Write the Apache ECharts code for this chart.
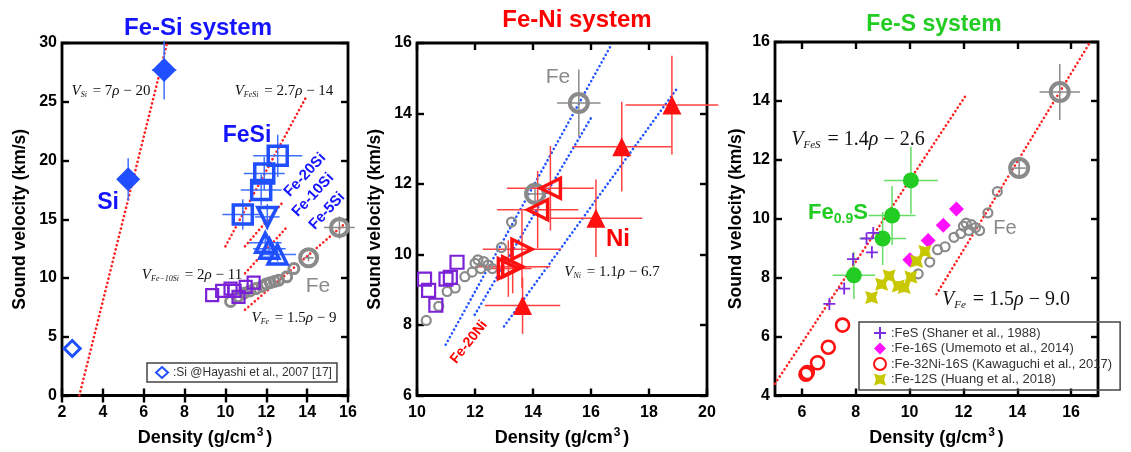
<!DOCTYPE html>
<html>
<head>
<meta charset="utf-8">
<script src="https://cdn.jsdelivr.net/npm/echarts@6/dist/echarts.min.js"></script>
<style>
  html, body { margin: 0; padding: 0; background: #fff; }
  #charts { width: 1131px; height: 452px; }
</style>
</head>
<body>
<div id="charts"></div>
<script>
// ---- data (density g/cm3, velocity km/s, [x err, y err]) ----
// Fe-Si panel
var siPts = [[7.0, 27.7, 0.6, 2.5], [5.24, 18.4, 0.3, 1.8]];
var siHayashi = [[2.5, 4.0]];
var feSiPts = [[12.56, 20.4, 1.2, 1.8], [11.9, 18.9, 1.0, 1.4], [11.75, 17.5, 1.0, 1.3], [10.85, 15.4, 1.0, 1.3]];
var fe20SiPts = [[12.05, 15.2, 0.6, 1.1]];
var fe10SiPts = [[11.95, 13.0, 0.8, 0.7], [12.15, 12.5, 0.8, 0.6], [12.55, 12.0, 0.9, 0.6]];
var purpleSi = [[9.35, 8.55], [9.84, 8.9], [10.25, 9.1], [10.64, 8.4], [10.45, 8.9], [10.99, 9.24], [11.38, 9.6]];
var feSmallSi = [[10.25, 8.0], [10.6, 8.4], [10.9, 8.7], [11.2, 8.9], [11.5, 9.1], [11.8, 9.3], [12.0, 9.5], [12.2, 9.6], [12.4, 9.7], [12.6, 9.8], [13.0, 10.1], [13.35, 10.8]];
var lineSi = [[2.85, 0], [7.13, 29.9]];
var lineFeSi = [[10.0, 12.7], [13.95, 25.4]];
var lineFe20Si = [[10.96, 12.7], [12.83, 16.5]];
var lineFe10Si = [[10.96, 10.4], [12.99, 14.3]];
var lineFeA = [[10.96, 7.3], [15.9, 14.7]];

// shared Fe data (Fe-Ni / Fe-S panels)
var feSmall = [[10.32, 8.13], [10.75, 8.53], [11.04, 8.95], [11.32, 9.05], [11.65, 9.37], [11.9, 9.5], [12.0, 9.75], [12.1, 9.85], [12.2, 9.6], [12.3, 9.8], [12.45, 9.7], [12.6, 9.6], [12.91, 10.2], [13.26, 10.92]];
var feBig = [[14.07, 11.72, 0.25, 0.3], [15.58, 14.3, 0.75, 0.95]];

// Fe-Ni panel
var niPts = [[18.79, 14.24, 1.6, 1.4], [17.06, 13.06, 1.7, 1.27], [16.17, 11.03, 1.6, 1.1], [13.64, 8.55, 1.3, 0.8]];
var feNiLeft = [[14.6, 11.88, 1.5, 1.2], [14.16, 11.27, 1.4, 1.1]];
var feNiRight = [[13.62, 10.15, 1.35, 1.1], [13.3, 9.65, 1.3, 0.75], [13.15, 9.6, 0.8, 0.8]];
var purpleNi = [[10.26, 9.3], [10.4, 8.98], [10.65, 8.56], [11.0, 9.3], [11.15, 9.35], [11.38, 9.78]];
var lineNiFe = [[10.99, 7.44], [16.72, 15.98]];
var lineNi20 = [[11.99, 8.29], [15.99, 13.86]];
var lineNi = [[13.0, 7.96], [18.94, 14.68]];

// Fe-S panel
var fe09S = [[10.05, 11.3, 1.0, 1.14], [9.35, 10.11, 0.87, 1.0], [9.0, 9.33, 0.87, 0.9], [7.93, 8.08, 0.79, 0.8]];
var feSPts = [[7.02, 7.11], [7.57, 7.63], [7.9, 8.63], [8.4, 9.33], [8.65, 9.52], [8.6, 8.86]];
var fe16S = [[10.01, 8.61], [10.69, 9.26], [11.25, 9.78], [11.74, 10.33]];
var fe32Ni16S = [[6.15, 4.72], [6.2, 4.78], [6.58, 5.11], [6.98, 5.64], [7.51, 6.39]];
var fe12S = [[8.59, 7.33], [8.96, 7.78], [9.24, 8.06], [9.58, 7.72], [9.8, 7.67], [10.05, 8.02], [10.26, 8.56], [10.57, 8.89]];
var lineFeS = [[5.0, 4.4], [12.1, 14.2]];
var lineFeB = [[11.0, 7.44], [16.69, 15.97]];

var ticksS = [6, 8, 10, 12, 14, 16];

// ---- helpers ----
var SANS = 'Liberation Sans';
var SERIF = 'Liberation Serif';

function axisPair(kind, gi, min, max, interval, custom, nameText, nameGap) {
  var base = {
    type: 'value', gridIndex: gi, min: min, max: max,
    splitLine: { show: false },
    axisLine: { show: false },
    axisTick: { show: true, inside: true, length: 7, lineStyle: { color: '#000', width: 2.4 } },
    axisLabel: { color: '#000', fontFamily: SANS, fontWeight: 'bold', fontSize: 16, margin: kind === 'x' ? 9 : 5 }
  };
  if (interval) base.interval = interval;
  if (custom) {
    base.axisTick.customValues = custom;
    base.axisLabel.customValues = custom;
  }
  var main = echarts.util.merge({}, base, true);
  var mirror = echarts.util.merge({}, base, true);
  mirror.axisLabel.show = false;
  main.name = nameText;
  main.nameLocation = 'middle';
  main.nameGap = nameGap;
  if (kind === 'x') {
    main.position = 'bottom';
    mirror.position = 'top';
    main.nameTextStyle = { color: '#000', fontFamily: SANS, fontWeight: 'bold', fontSize: 18,
      rich: { sup: { fontFamily: SANS, fontWeight: 'bold', fontSize: 12, verticalAlign: 'top', padding: [0, 3, 11, 1] } } };
  } else {
    main.position = 'left';
    mirror.position = 'right';
    main.nameTextStyle = { color: '#000', fontFamily: SANS, fontWeight: 'bold', fontSize: 17.5 };
  }
  return [main, mirror];
}

function errBars(gi, data, color, w) {
  return {
    type: 'custom', xAxisIndex: gi * 2, yAxisIndex: gi * 2, data: data, silent: true,
    encode: { x: 0, y: 1 }, z: 3,
    renderItem: function (params, api) {
      var x = api.value(0), y = api.value(1), dx = api.value(2), dy = api.value(3);
      var l = api.coord([x - dx, y]), r = api.coord([x + dx, y]);
      var b = api.coord([x, y - dy]), t = api.coord([x, y + dy]);
      var st = { stroke: color, lineWidth: w };
      return { type: 'group', children: [
        { type: 'line', shape: { x1: l[0], y1: l[1], x2: r[0], y2: r[1] }, style: st },
        { type: 'line', shape: { x1: b[0], y1: b[1], x2: t[0], y2: t[1] }, style: st }
      ] };
    }
  };
}

function pts(gi, name, data, symbol, size, fill, border, bw, rot) {
  return {
    type: 'scatter', name: name, xAxisIndex: gi * 2, yAxisIndex: gi * 2,
    data: data.map(function (d) { return [d[0], d[1]]; }),
    symbol: symbol, symbolSize: size, symbolRotate: rot || 0, z: 4,
    itemStyle: { color: fill, borderColor: border, borderWidth: bw, opacity: 1 }
  };
}

function dotted(gi, data, color) {
  return {
    type: 'line', xAxisIndex: gi * 2, yAxisIndex: gi * 2, data: data, symbol: 'none', z: 2,
    lineStyle: { color: color, width: 2.6, type: [0.1, 4.2], cap: 'round' }, silent: true
  };
}

function label(x, y, text, size, color, bold, rot) {
  return { type: 'text', x: x, y: y, rotation: rot || 0, z: 10,
    style: { text: text, fill: color, fontFamily: SANS, fontWeight: bold ? 'bold' : 'normal', fontSize: size,
      align: 'center', verticalAlign: 'middle' } };
}

function eq(x, y, sub, a, b, fs) {
  return { type: 'text', x: x, y: y, z: 10,
    style: {
      text: '{v|V}{s|' + sub + '}{r| = ' + a + '}{p|ρ}{r| − ' + b + '}',
      align: 'center', verticalAlign: 'middle',
      rich: {
        v: { fontFamily: SERIF, fontStyle: 'italic', fontSize: fs, fill: '#111' },
        s: { fontFamily: SERIF, fontStyle: 'italic', fontSize: Math.round(fs * 0.55), fill: '#111', verticalAlign: 'bottom', padding: [Math.round(fs * 0.55), 2, 0, 0] },
        r: { fontFamily: SERIF, fontSize: fs, fill: '#111' },
        p: { fontFamily: SERIF, fontStyle: 'italic', fontSize: fs, fill: '#111' }
      }
    } };
}

var blue = '#1f4fff', blueErr = '#3f6fff', red = '#ff1010', redErr = '#ff4040';
var gray = '#8a8a8a', purple = '#7b22d6', green = '#22cc22', greenErr = '#66dd66';
var hollow = 'rgba(0,0,0,0)';

var xA = [], yA = [];
[['x', 0, 2, 16, 2, null], ['x', 1, 10, 20, 2, null], ['x', 2, 5, 17, null, ticksS]].forEach(function (a) {
  xA = xA.concat(axisPair('x', a[1], a[2], a[3], a[4], a[5], 'Density (g/cm{sup|3})', 31));
});
[['y', 0, 0, 30, 5, null, 33], ['y', 1, 6, 16, 2, null, 33], ['y', 2, 4, 16, 2, null, 30]].forEach(function (a) {
  yA = yA.concat(axisPair('y', a[1], a[2], a[3], a[4], a[5], 'Sound velocity (km/s)', a[6]));
});

var gridStyle = { show: true, borderColor: '#000', borderWidth: 2.8, backgroundColor: '#fff' };

var option = {
  animation: false,
  grid: [
    echarts.util.extend({ left: 62, top: 43, width: 286, height: 357 }, gridStyle),
    echarts.util.extend({ left: 417, top: 43, width: 290, height: 353 }, gridStyle),
    echarts.util.extend({ left: 775, top: 42, width: 323, height: 360 }, gridStyle)
  ],
  xAxis: xA,
  yAxis: yA,
  legend: [
    { data: [':Si @Hayashi et al., 2007 [17]'], left: 147, top: 363, orient: 'vertical',
      borderColor: '#444', borderWidth: 1.5, padding: [3, 5, 3, 8], itemWidth: 12, itemHeight: 11,
      textStyle: { fontFamily: SANS, fontSize: 12, color: '#333' } },
    { data: [':FeS (Shaner et al., 1988)', ':Fe-16S (Umemoto et al., 2014)', ':Fe-32Ni-16S (Kawaguchi et al., 2017)', ':Fe-12S (Huang et al., 2018)'],
      left: 859, top: 322, orient: 'vertical', itemGap: 2,
      borderColor: '#444', borderWidth: 1.5, padding: [4, 8, 4, 14], itemWidth: 12, itemHeight: 12,
      textStyle: { fontFamily: SANS, fontSize: 13, color: '#333' } }
  ],
  series: [
    // ---- Fe-Si ----
    dotted(0, lineSi, '#ff2020'),
    dotted(0, lineFeSi, '#ff2020'),
    dotted(0, lineFe20Si, '#ff2020'),
    dotted(0, lineFe10Si, '#ff2020'),
    dotted(0, lineFeA, '#ff2020'),
    pts(0, 'feSmallSi', feSmallSi, 'circle', 10, hollow, gray, 3),
    pts(0, 'purpleSi', purpleSi, 'rect', 12, hollow, purple, 2.2),
    errBars(0, feBig, gray, 1.5),
    pts(0, 'feBigSi', feBig, 'circle', 17, hollow, gray, 4),
    errBars(0, siPts, blueErr, 1.5),
    pts(0, 'si', siPts, 'diamond', 24, blue, blue, 0),
    pts(0, ':Si @Hayashi et al., 2007 [17]', siHayashi, 'diamond', 16, hollow, blue, 3),
    errBars(0, feSiPts, blueErr, 1.5),
    pts(0, 'feSi', feSiPts, 'rect', 19, hollow, blue, 3.5),
    errBars(0, fe20SiPts, blueErr, 1.5),
    pts(0, 'fe20Si', fe20SiPts, 'triangle', 19, hollow, blue, 3.5, 180),
    errBars(0, fe10SiPts, blueErr, 1.5),
    pts(0, 'fe10Si', fe10SiPts, 'triangle', 19, hollow, blue, 3.5),
    // ---- Fe-Ni ----
    dotted(1, lineNiFe, '#2255ff'),
    dotted(1, lineNi20, '#2255ff'),
    dotted(1, lineNi, '#2255ff'),
    pts(1, 'feSmallNi', feSmall, 'circle', 9, hollow, gray, 2.2),
    pts(1, 'purpleNi', purpleNi, 'rect', 13, hollow, purple, 2.2),
    errBars(1, feBig, gray, 1.5),
    pts(1, 'feBigNi', feBig, 'circle', 18, hollow, gray, 4),
    errBars(1, niPts, redErr, 1.5),
    pts(1, 'ni', niPts, 'triangle', 19, red, red, 0),
    errBars(1, feNiLeft, redErr, 1.5),
    pts(1, 'feNiL', feNiLeft, 'triangle', 20, hollow, red, 3.5, 90),
    errBars(1, feNiRight, redErr, 1.5),
    pts(1, 'feNiR', feNiRight, 'triangle', 20, hollow, red, 3.5, -90),
    // ---- Fe-S ----
    dotted(2, lineFeS, '#ff2020'),
    dotted(2, lineFeB, '#ff2020'),
    pts(2, 'feSmallS', feSmall, 'circle', 9, hollow, gray, 2.2),
    errBars(2, feBig, gray, 1.5),
    pts(2, 'feBigS', feBig, 'circle', 18, hollow, gray, 4),
    errBars(2, fe09S, greenErr, 1.5),
    pts(2, 'fe09S', fe09S, 'circle', 16, green, green, 0),
    pts(2, ':FeS (Shaner et al., 1988)', feSPts, 'path://M5,0V10M0,5H10', 12, hollow, '#7b2be0', 1.8),
    pts(2, ':Fe-16S (Umemoto et al., 2014)', fe16S, 'diamond', 15, '#ff10ff', '#ff10ff', 0),
    pts(2, ':Fe-32Ni-16S (Kawaguchi et al., 2017)', fe32Ni16S, 'circle', 13, hollow, '#ff1010', 2.6),
    pts(2, ':Fe-12S (Huang et al., 2018)', fe12S, 'path://M0,0L5,1.6L10,0L8.4,5L10,10L5,8.4L0,10L1.6,5Z', 13, '#c8c800', '#c8c800', 0)
  ],
  graphic: [
    label(198, 28, 'Fe-Si system', 24, '#1414ff', true),
    label(577, 20, 'Fe-Ni system', 24, '#ff0000', true),
    label(934, 25, 'Fe-S system', 23, '#22cc22', true),
    label(108, 203, 'Si', 23, '#1414ff', true),
    label(247, 136, 'FeSi', 23, '#1414ff', true),
    label(305, 175, 'Fe-20Si', 15, '#1414ff', true, 0.82),
    label(313, 195, 'Fe-10Si', 15, '#1414ff', true, 0.82),
    label(327, 211, 'Fe-5Si', 15, '#1414ff', true, 0.82),
    label(318, 286, 'Fe', 21, gray, false),
    eq(111, 91, 'Si', '7', '20', 15),
    eq(284, 91, 'FeSi', '2.7', '14', 15),
    eq(192, 275, 'Fe−10Si', '2', '11', 15),
    eq(294, 318, 'Fe', '1.5', '9', 15),
    label(558, 77, 'Fe', 21, gray, false),
    label(618, 239, 'Ni', 24, '#ff0000', true),
    eq(612, 272, 'Ni', '1.1', '6.7', 15),
    label(469, 342, 'Fe-20Ni', 14, '#ff0000', true, 0.9),
    eq(858, 140, 'FeS', '1.4', '2.6', 20),
    { type: 'text', x: 838, y: 213, z: 10, style: { text: 'Fe{s|0.9}S', fill: '#22cc22', fontFamily: SANS, fontWeight: 'bold', fontSize: 22,
      align: 'center', verticalAlign: 'middle',
      rich: { s: { fontFamily: SANS, fontWeight: 'bold', fontSize: 14, fill: '#22cc22', verticalAlign: 'bottom', padding: [12, 0, 0, 0] } } } },
    label(1005, 228, 'Fe', 20, gray, false),
    eq(1006, 300, 'Fe', '1.5', '9.0', 20)
  ]
};

var chart = echarts.init(document.getElementById('charts'));
chart.setOption(option);
</script>
</body>
</html>
